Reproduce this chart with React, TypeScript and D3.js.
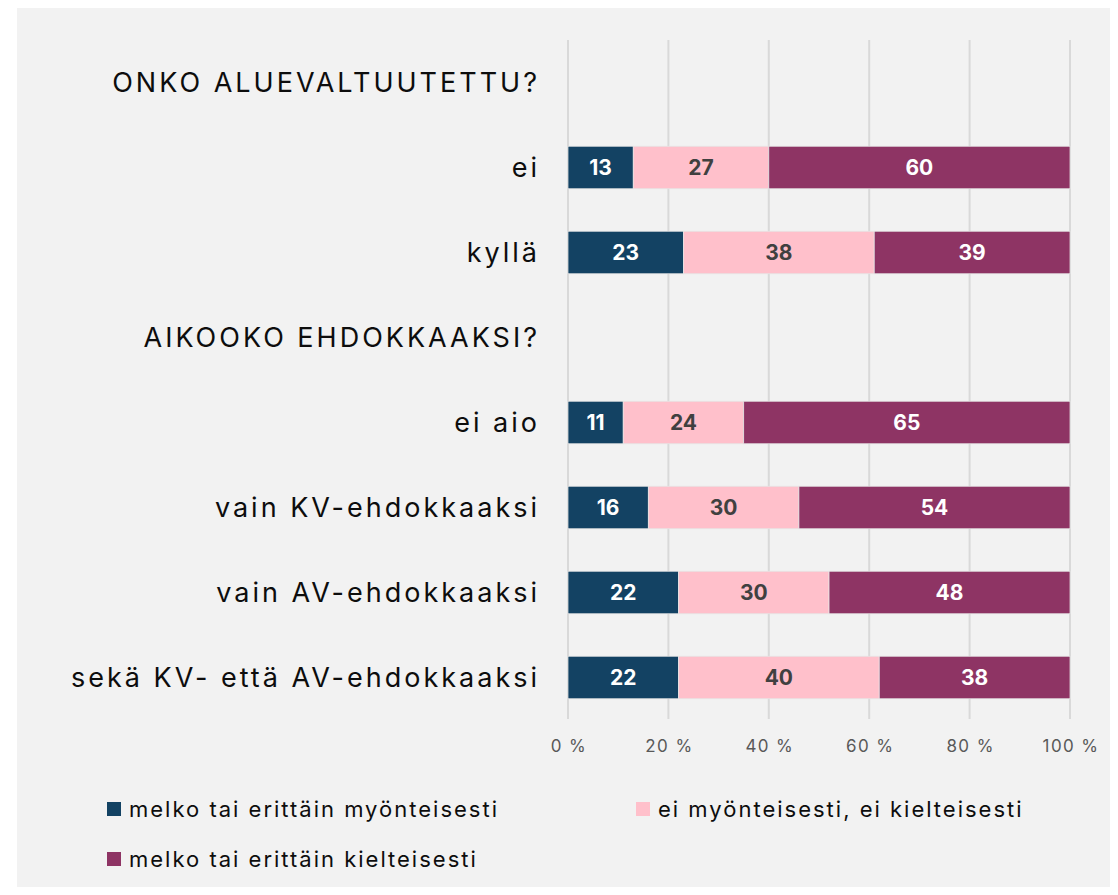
import React, { useEffect, useRef } from 'react';
import * as d3 from 'd3';

// Rows (headers have no values)
const categories = [
  'ONKO ALUEVALTUUTETTU?',
  'ei',
  'kyllä',
  'AIKOOKO EHDOKKAAKSI?',
  'ei aio',
  'vain KV-ehdokkaaksi',
  'vain AV-ehdokkaaksi',
  'sekä KV- että AV-ehdokkaaksi',
];
const positive = [null, 13, 23, null, 11, 16, 22, 22];
const neutral = [null, 27, 38, null, 24, 30, 30, 40];
const negative = [null, 60, 39, null, 65, 54, 48, 38];

const seriesNames = [
  'melko tai erittäin myönteisesti',
  'ei myönteisesti, ei kielteisesti',
  'melko tai erittäin kielteisesti',
];
const seriesColors = ['#134263', '#ffc0cb', '#8e3464'];
const labelColors = ['#ffffff', '#404040', '#ffffff'];
const ticks = [0, 20, 40, 60, 80, 100];

const FONT = 'Inter, "Open Sans", sans-serif';

const App = () => {
  const ref = useRef<SVGSVGElement>(null);

  useEffect(() => {
    const svg = d3.select(ref.current);
    svg.selectAll('*').remove();

    const W = 1118;
    const H = 895;

    svg.append('rect')
      .attr('x', 17).attr('y', 8)
      .attr('width', W - 17).attr('height', H - 8)
      .attr('fill', '#f2f2f2');

    const x = d3.scaleLinear().domain([0, 100]).range([568, 1070]);
    const y = d3.scaleBand().domain(categories).range([40, 720]).paddingInner(0.5).paddingOuter(0.25);

    // gridlines
    svg.append('g')
      .selectAll('line')
      .data(ticks)
      .join('line')
      .attr('x1', d => x(d)).attr('x2', d => x(d))
      .attr('y1', 40).attr('y2', 719)
      .attr('stroke', '#d9d9d9')
      .attr('stroke-width', 2);

    // tick labels
    svg.append('g')
      .selectAll('text')
      .data(ticks)
      .join('text')
      .attr('x', d => x(d) + 1)
      .attr('y', 752)
      .attr('text-anchor', 'middle')
      .attr('font-family', FONT)
      .attr('font-size', 17)
      .attr('letter-spacing', 1.4)
      .attr('fill', '#595959')
      .text(d => `${d} %`);

    // category labels
    svg.append('g')
      .selectAll('text')
      .data(categories)
      .join('text')
      .attr('x', 540)
      .attr('y', d => (y(d) as number) + y.bandwidth() / 2)
      .attr('dy', '0.36em')
      .attr('text-anchor', 'end')
      .attr('font-family', FONT)
      .attr('font-size', 27)
      .attr('letter-spacing', 3)
      .attr('fill', '#0d0d0d')
      .text(d => d);

    const rows = categories.map((c, i) => ({ c, vals: [positive[i], neutral[i], negative[i]] }));
    const segs: { c: string; s: number; x0: number; v: number }[] = [];
    rows.forEach(r => {
      if (r.vals[0] == null) return;
      let acc = 0;
      r.vals.forEach((v, s) => {
        segs.push({ c: r.c, s, x0: acc, v: v as number });
        acc += v as number;
      });
    });

    const bars = svg.append('g');
    bars.selectAll('rect')
      .data(segs)
      .join('rect')
      .attr('x', d => x(d.x0))
      .attr('y', d => y(d.c) as number)
      .attr('width', d => x(d.x0 + d.v) - x(d.x0))
      .attr('height', y.bandwidth())
      .attr('fill', d => seriesColors[d.s])
      .attr('stroke', '#e6e6e6')
      .attr('stroke-width', 0.75);

    bars.selectAll('text')
      .data(segs)
      .join('text')
      .attr('x', d => x(d.x0 + d.v / 2))
      .attr('y', d => (y(d.c) as number) + y.bandwidth() / 2)
      .attr('dy', '0.36em')
      .attr('text-anchor', 'middle')
      .attr('font-family', FONT)
      .attr('font-size', 21)
      .attr('font-weight', 700)
      .attr('fill', d => labelColors[d.s])
      .text(d => d.v);

    // legend
    const legendPos = [[107, 809], [636, 809], [107, 859]];
    const lg = svg.append('g')
      .selectAll('g')
      .data(seriesNames)
      .join('g')
      .attr('transform', (d, i) => `translate(${legendPos[i][0]},${legendPos[i][1]})`);
    lg.append('rect')
      .attr('x', 0).attr('y', -7)
      .attr('width', 14).attr('height', 14)
      .attr('fill', (d, i) => seriesColors[i]);
    lg.append('text')
      .attr('x', 22).attr('y', 0)
      .attr('dy', '0.36em')
      .attr('font-family', FONT)
      .attr('font-size', 22)
      .attr('letter-spacing', 2)
      .attr('fill', '#0d0d0d')
      .text(d => d);
  }, []);

  return <svg ref={ref} width={1118} height={895} style={{ display: 'block', margin: -8 }} />;
};

export default App;
